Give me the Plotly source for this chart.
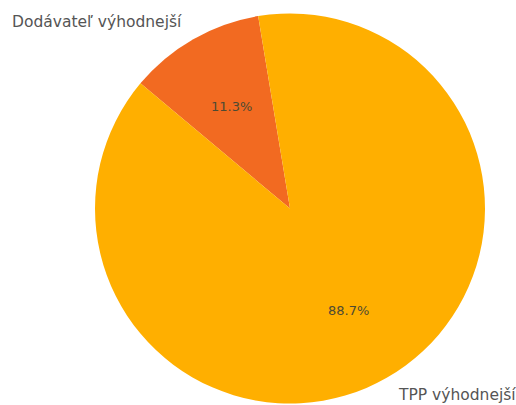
import math
import plotly.graph_objects as go

labels = ["Dodávateľ výhodnejší", "TPP výhodnejší"]
values = [11.3, 88.7]
colors = ["#F26A21", "#FFAF00"]

W, H = 516, 405
CX, CY, R = 290, 208.5, 195
START = 9.4  # degrees counterclockwise from 12 o'clock where the first slice begins

total = sum(values)
first_span = 360 * values[0] / total

# Plotly lays the first slice clockwise from `rotation`, so start it at its far edge
fig = go.Figure(go.Pie(
    labels=labels,
    values=values,
    marker=dict(colors=colors, line=dict(width=0)),
    sort=False,
    direction="counterclockwise",
    rotation=-(START + first_span),
    textinfo="none",
    hoverinfo="label+percent",
    showlegend=False,
    domain=dict(x=[(CX - R) / W, (CX + R) / W],
                y=[(H - CY - R) / H, (H - CY + R) / H]),
))

annotations = []
acc = 0.0
for lab, v in zip(labels, values):
    mid = START + 360 * (acc + v / 2) / total
    acc += v
    th = math.radians(mid)
    ux, uy = -math.sin(th), math.cos(th)  # paper-space direction (y up)
    pct = 100 * v / total
    # percentage inside the slice
    annotations.append(dict(
        x=(CX + 0.6 * R * ux) / W, y=(H - CY + 0.6 * R * uy) / H,
        xref="paper", yref="paper", text=f"{pct:.1f}%", showarrow=False,
        xanchor="center", yanchor="middle",
        font=dict(family="DejaVu Sans", size=13, color="#4d4a33"),
    ))
    # category label outside the pie
    annotations.append(dict(
        x=(CX + 1.1 * R * ux) / W, y=(H - CY + 1.1 * R * uy) / H,
        xref="paper", yref="paper", text=lab, showarrow=False,
        xanchor="right" if ux < 0 else "left", yanchor="middle",
        font=dict(family="DejaVu Sans", size=15.5, color="#555555"),
    ))

fig.update_layout(
    width=W, height=H,
    margin=dict(l=0, r=0, t=0, b=0),
    paper_bgcolor="white",
    plot_bgcolor="white",
    annotations=annotations,
)

fig.write_html("out.html")
